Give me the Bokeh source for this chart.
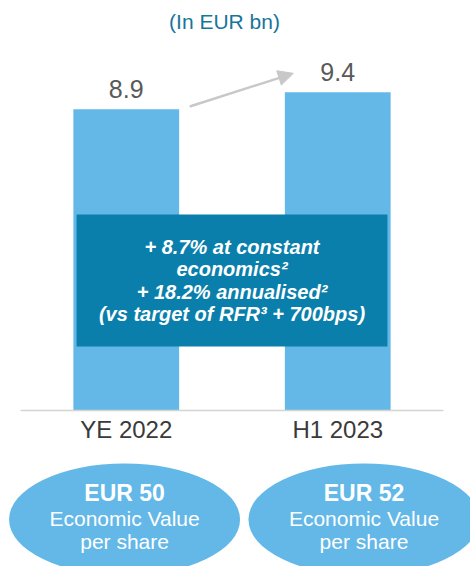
from bokeh.plotting import figure
from bokeh.models import Range1d, ColumnDataSource, Arrow, NormalHead, Label
from bokeh.core.properties import value
from bokeh.embed import file_html
from bokeh.resources import INLINE

# ---- data ----
title_text = "(In EUR bn)"
categories = ["YE 2022", "H1 2023"]
values = [8.9, 9.4]
value_labels = ["8.9", "9.4"]
ev_per_share = ["EUR 50", "EUR 52"]
ev_caption = ["Economic Value", "Economic Value"]
ev_caption2 = ["per share", "per share"]
box_lines = [
    "+ 8.7% at constant",
    "economics\u00b2",
    "+ 18.2% annualised\u00b2",
    "(vs target of RFR\u00b3 + 700bps)",
]

# ---- layout / style constants ----
FONT = "Liberation Sans"
BAR_COLOR = "#63b8e8"
BOX_COLOR = "#0b7fab"
W, H = 470, 566
PX_X = 211.5          # px per category unit
PX_Y = 33.85          # px per EUR bn
X0 = -0.5 - 20 / PX_X
Y1 = 410 / PX_Y
xs = list(range(len(categories)))
bar_w = 0.5

p = figure(width=W, height=H, output_backend="svg", toolbar_location=None,
           x_range=Range1d(X0, X0 + W / PX_X), y_range=Range1d(Y1 - H / PX_Y, Y1),
           min_border=0, min_border_left=0, min_border_right=0,
           min_border_top=0, min_border_bottom=0)
p.axis.visible = False
p.grid.visible = False
p.outline_line_color = None
p.background_fill_color = "white"
p.border_fill_color = "white"

src = ColumnDataSource(dict(x=xs, top=values, lab=value_labels, cat=categories))

# bars
p.vbar(x="x", top="top", width=bar_w, bottom=0, source=src,
       fill_color=BAR_COLOR, line_color=None)

# baseline
p.segment(x0=[xs[0] - 0.5], y0=[0], x1=[xs[-1] + 0.5], y1=[0],
          line_color="#d4d4d4", line_width=1.5)

# value labels
p.text(x="x", y="top", text="lab", source=src, text_align="center",
       text_baseline="alphabetic", y_offset=-20, text_color="#595959",
       text_font=value(FONT), text_font_size="25px")

# category labels
p.text(x="x", y=0, text="cat", source=src, text_align="center",
       text_baseline="alphabetic", y_offset=19, text_color="#3a3a3a",
       text_font=value(FONT), text_font_size="24px")

# arrow
arrow_x0 = xs[0] + bar_w / 2 + 0.05
arrow_x1 = xs[1] - 0.21
p.add_layout(Arrow(x_start=arrow_x0, y_start=values[0] + 0.08,
                   x_end=arrow_x1, y_end=values[1] + 0.56,
                   line_color="#c8c8c8", line_width=2.5,
                   end=NormalHead(size=15, fill_color="#c8c8c8", line_color="#c8c8c8")))

# central box
box_left = xs[0] - bar_w / 2 + 0.015
box_right = xs[1] + bar_w / 2 - 0.015
box_cy = 3.84
box_h = 3.9
p.rect(x=[(box_left + box_right) / 2], y=[box_cy], width=[box_right - box_left],
       height=[box_h], fill_color=BOX_COLOR, line_color=None)
p.text(x=[(box_left + box_right) / 2], y=[box_cy], text=["\n".join(box_lines)],
       text_align="center", text_baseline="middle", text_color="white",
       text_font=value(FONT), text_font_size="20px", text_font_style="bold italic",
       text_line_height=1.03)

# ellipses
ell_x = [xs[0] - 0.008, xs[1] + 0.124]
ell_y = -3.22
ell_src = ColumnDataSource(dict(x=ell_x, y=[ell_y] * 2, a=ev_per_share,
                                b=ev_caption, c=ev_caption2))
p.ellipse(x="x", y="y", width=231 / PX_X, height=112 / PX_Y, source=ell_src,
          fill_color=BAR_COLOR, line_color=None)
p.text(x="x", y="y", text="a", source=ell_src, text_align="center",
       text_baseline="alphabetic", y_offset=-26, text_color="white",
       text_font=value(FONT), text_font_size="23px", text_font_style="bold")
p.text(x="x", y="y", text="b", source=ell_src, text_align="center",
       text_baseline="alphabetic", y_offset=-1, text_color="white",
       text_font=value(FONT), text_font_size="21px")
p.text(x="x", y="y", text="c", source=ell_src, text_align="center",
       text_baseline="alphabetic", y_offset=22, text_color="white",
       text_font=value(FONT), text_font_size="21px")

# title
p.add_layout(Label(x=224, y=H - 21, x_units="screen", y_units="screen",
                   text=title_text, text_align="center", text_baseline="alphabetic",
                   text_color="#17759a", text_font=FONT, text_font_size="21px"))

open("out.html", "w").write(file_html(p, INLINE))
